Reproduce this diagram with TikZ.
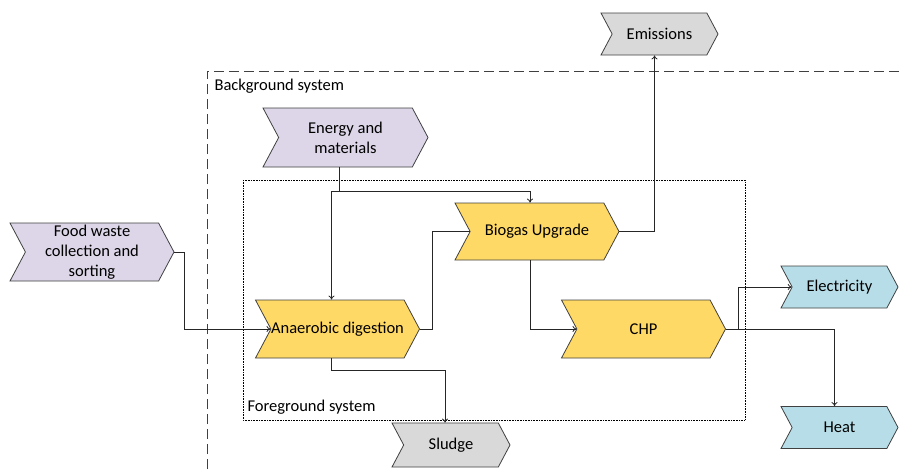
\documentclass[tikz,border=0pt]{standalone}
\usepackage{fontspec}
\setmainfont{Carlito}
\usetikzlibrary{shapes.symbols,arrows.meta}
\definecolor{lavender}{HTML}{DDD6E8}
\definecolor{gold}{HTML}{FFD966}
\definecolor{iceblue}{HTML}{B7DEE8}
\definecolor{ashgray}{HTML}{D9D9D9}
\definecolor{edge}{HTML}{404040}
\tikzset{
	chevron/.style={signal, signal from=west, signal to=east, signal pointer angle=124,
		draw=edge, line width=0.8pt, align=center, inner sep=0pt,
		font=\fontsize{16.5}{20}\selectfont},
	bigchev/.style={chevron, minimum width=164pt, minimum height=58pt},
	smallchev/.style={chevron, minimum width=117pt, minimum height=42pt},
	line/.style={draw=black!85, line width=0.8pt},
	flow/.style={line, -{To[length=4pt,width=6pt]}},
	label/.style={anchor=west, font=\fontsize{16.5}{20}\selectfont}
}
\begin{document}
\begin{tikzpicture}[x=1pt,y=-1pt]
\useasboundingbox (0,0) rectangle (900,469);
% system boundaries
\draw[edge, line width=0.9pt, dash pattern=on 10pt off 5pt] (207,469) -- (207,71) -- (900,71);
\node[label] (bg) at (211,86) {Background system};
\draw[black, line width=0.6pt, dash pattern=on 0.8pt off 0.8pt] (243,180) rectangle (745,420);
\node[label] (fg) at (244,407) {Foreground system};
% processes
\node[bigchev, fill=lavender] (food) at (92,252) {Food waste\\collection and\\sorting};
\node[bigchev, fill=lavender, minimum width=165pt, minimum height=59pt] (energy) at (345.5,137.5) {Energy and\\materials};
\node[bigchev, fill=gold] (ad) at (337.5,329) {Anaerobic digestion};
\node[bigchev, fill=gold, minimum height=57pt] (bu) at (537,231.5) {Biogas Upgrade};
\node[bigchev, fill=gold] (chp) at (643.5,329) {CHP};
\node[smallchev, fill=ashgray] (em) at (659.5,34) {Emissions};
\node[smallchev, fill=iceblue] (el) at (839.5,287) {Electricity};
\node[smallchev, fill=iceblue] (heat) at (839.5,427.5) {Heat};
\node[smallchev, fill=ashgray, minimum width=118pt, minimum height=44pt] (sludge) at (451,445) {Sludge};
% flows
\draw[flow] (food.east) -- ++(10,0) |- (ad.west);
\coordinate (split) at ([xshift=-6pt,yshift=-24pt]energy.south);
\draw[line] ([xshift=-6pt]energy.south) -- (split);
\draw[flow] (split) -| ([xshift=-7pt]bu.north);
\draw[flow] (split) -| ([xshift=-6pt]ad.north);
\draw[line] (ad.east) -- ++(12,0) |- (bu.west);
\draw[flow] (bu.east) -| ([xshift=-5pt]em.south);
\draw[flow] ([xshift=-7pt]bu.south) |- (chp.west);
\draw[flow] (chp.east) -- ++(12,0) |- (el.west);
\draw[flow] (chp.east) -| ([xshift=-5pt]heat.north);
\draw[flow] ([xshift=-6pt]ad.south) -- ++(0,12) -| ([xshift=-6pt]sludge.north);
\end{tikzpicture}
\end{document}
